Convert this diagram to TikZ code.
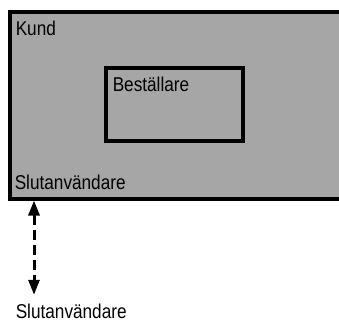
\documentclass[tikz,border=0pt]{standalone}
\usepackage{fontspec}
\setmainfont{Liberation Sans}[FakeStretch=0.86]
\usetikzlibrary{arrows.meta}

\begin{document}
\begin{tikzpicture}[x=1pt, y=-1pt, line width=3.5pt,
    box/.style = {draw, outer sep=0pt, inner sep=0pt},
    txt/.style = {anchor=base west, inner sep=0pt, font=\fontsize{20}{22}\selectfont},
    dubbelpil/.style = {{Triangle[width=11pt,length=15pt]}-{Triangle[width=11pt,length=15pt]},
      line width=3pt, dash pattern=on 10pt off 5pt, shorten <=1.5pt, shorten >=7pt}]
  \useasboundingbox (0,0) rectangle (339,321);
  \clip (0,0) rectangle (339,321);
  \node[fill=gray!70, outer sep=0pt, inner sep=0pt, minimum width=340pt, minimum height=187pt, anchor=north west] (kund) at (10,12) {};
  \draw (kund.north east) -- (kund.north west) -- (kund.south west) -- (kund.south east);
  \node[box, minimum width=137pt, minimum height=73pt, anchor=north west] (bestallare) at (106,68) {};

  \node[txt] (kundtext) at (14,35) {Kund};
  \node[txt] (besttext) at (111,91) {Beställare};
  \node[txt] (sluttext) at (13,189) {Slutanvändare};
  \node[txt] (slut) at (14,318) {Slutanvändare};

  \coordinate (pil) at (34,0);
  \draw[dubbelpil] (kund.south -| pil) -- (slut.north -| pil);
\end{tikzpicture}
\end{document}
